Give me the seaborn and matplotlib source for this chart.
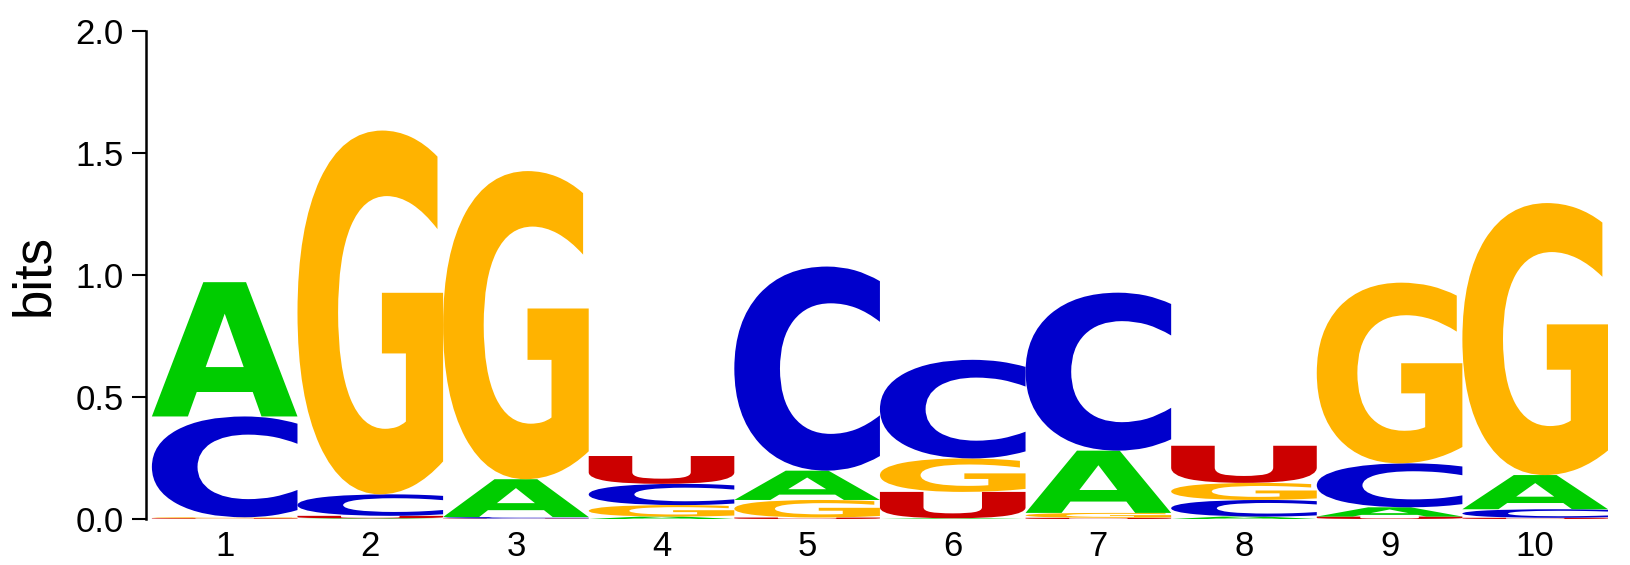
import matplotlib
matplotlib.use("Agg")
import matplotlib.pyplot as plt
import seaborn as sns
from matplotlib.textpath import TextPath
from matplotlib.patches import PathPatch
from matplotlib.font_manager import FontProperties
from matplotlib.transforms import Affine2D

# positions 1..10, information (bits) per base
positions = list(range(1, 11))
A = [0.550, 0.003, 0.155, 0.010, 0.120, 0.003, 0.255, 0.010, 0.038, 0.140]
C = [0.413, 0.088, 0.006, 0.087, 0.836, 0.404, 0.647, 0.068, 0.180, 0.035]
G = [0.004, 1.490, 1.262, 0.047, 0.072, 0.137, 0.020, 0.070, 0.740, 1.114]
U = [0.003, 0.010, 0.002, 0.114, 0.006, 0.108, 0.005, 0.152, 0.010, 0.005]

colors = {"A": "#00CC00", "C": "#0000CC", "G": "#FFB300", "U": "#CC0000"}

sns.set_theme(style="ticks")
plt.rcParams["font.family"] = ["Liberation Sans", "DejaVu Sans"]
plt.rcParams["text.color"] = "black"
plt.rcParams["axes.labelcolor"] = "black"
plt.rcParams["xtick.color"] = "black"
plt.rcParams["ytick.color"] = "black"

fig = plt.figure(figsize=(16.3, 5.65), dpi=100)
ax = fig.add_axes([0.0896, 0.0814, 0.8969, 0.8643])

# letters of the logo drawn as stretched glyph outlines
letter_font = FontProperties(family="DejaVu Sans", weight="bold")
glyphs = {b: TextPath((0, 0), b, size=1, prop=letter_font) for b in "ACGU"}


def draw_letter(base, x, y0, h):
    path = glyphs[base]
    ext = path.get_extents()
    t = (Affine2D()
         .translate(-ext.x0, -ext.y0)
         .scale(1.0 / ext.width, h / ext.height)
         .translate(x - 0.5, y0))
    ax.add_patch(PathPatch(t.transform_path(path), facecolor=colors[base],
                           edgecolor="none"))


for i, pos in enumerate(positions):
    heights = {"A": A[i], "C": C[i], "G": G[i], "U": U[i]}
    y = 0.0
    # smallest at the bottom, biggest on top
    for base, h in sorted(heights.items(), key=lambda kv: kv[1]):
        draw_letter(base, pos, y, h)
        y += h

ax.set_xlim(0.46, 10.5)
ax.set_ylim(0, 2.0)
ax.set_xticks(positions)
ax.set_yticks([0, 0.5, 1.0, 1.5, 2.0])
ax.set_yticklabels(["0.0", "0.5", "1.0", "1.5", "2.0"])
ax.tick_params(axis="y", length=10, width=1.5, pad=6, labelsize=25)
ax.tick_params(axis="x", length=0, pad=8, labelsize=25)
ax.set_ylabel("bits", fontsize=38, labelpad=12)
sns.despine(ax=ax, bottom=True)
ax.spines["left"].set_linewidth(1.8)
ax.spines["left"].set_color("black")

fig.savefig("out.png", dpi=100)
